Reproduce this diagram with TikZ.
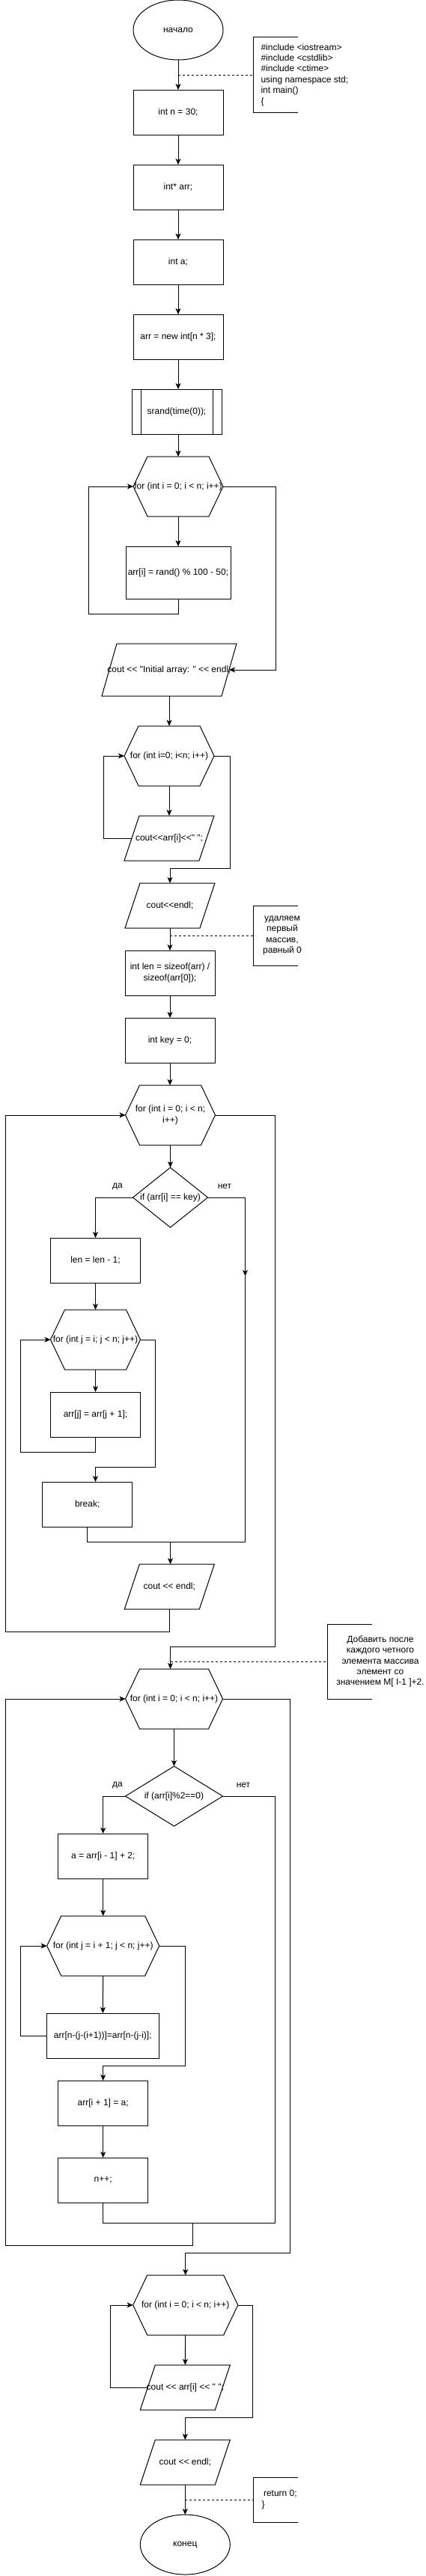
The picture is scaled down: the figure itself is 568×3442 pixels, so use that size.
\documentclass[tikz,border=0pt]{standalone}
\usepackage{fontspec}
\setmainfont{Liberation Sans}[Ligatures=TeXOff]
\usetikzlibrary{shapes.geometric,arrows.meta,calc}
\tikzset{
  base/.style={inner sep=0pt, outer sep=0pt, align=center, font=\fontsize{12}{14.4}\selectfont},
  sz/.style 2 args={minimum width=#1pt, minimum height=#2pt},
  proc/.style={base, draw, rectangle},
  term/.style={base, draw, ellipse},
  plain/.style={base},
  arr/.style={-{Stealth[length=8pt,width=7pt,inset=2pt]}},
  dsh/.style={dash pattern=on 3pt off 3pt}
}
\newcommand\hexout[1]{\draw ([xshift=19pt]#1.north west) -- ([xshift=-19pt]#1.north east) -- (#1.east) -- ([xshift=-19pt]#1.south east) -- ([xshift=19pt]#1.south west) -- (#1.west) -- cycle;}
\newcommand\paraout[1]{\draw ([xshift=20pt]#1.north west) -- (#1.north east) -- ([xshift=-20pt]#1.south east) -- (#1.south west) -- cycle;}
\newcommand\diaout[1]{\draw (#1.north) -- (#1.east) -- (#1.south) -- (#1.west) -- cycle;}
\newcommand\noteout[1]{\draw (#1.north east) -- (#1.north west) -- (#1.south west) -- (#1.south east);}
\newcommand\procout[1]{\draw (#1.north west) rectangle (#1.south east); \draw ([xshift=12pt]#1.north west) -- ([xshift=12pt]#1.south west); \draw ([xshift=-12pt]#1.north east) -- ([xshift=-12pt]#1.south east);}
\begin{document}
\begin{tikzpicture}[x=1pt,y=-1pt,line width=1pt]
\fill[white] (0,0) rectangle (568,3442);
\useasboundingbox (0,0) rectangle (568,3442);
\coordinate (lx) at (7.2,0);
\coordinate (rx1) at (367.8,0);
\coordinate (c2200) at (227.5,2200);
\coordinate (j1) at (327.5,2060);
\coordinate (j3) at (367.8,2970);
\coordinate (j4) at (257.6,2970);

% nodes
\node[term, sz={120}{80}] (start) at (238,40) {начало};
\node[plain, sz={60}{100}] (note1) at (368,100) {};
\node[base, anchor=west, align=left] (note1t) at (348.5,100) {\#include <iostream>\\\#include <cstdlib>\\\#include <ctime>\\using namespace std;\\int main()\\\{};
\node[proc, sz={120}{60}] (n30) at (238,150) {int n = 30;};
\node[proc, sz={120}{60}] (arrp) at (238,250) {int* arr;};
\node[proc, sz={120}{60}] (inta) at (238,350) {int a;};
\node[proc, sz={120}{60}] (newarr) at (238,450) {arr = new int[n * 3];};
\node[plain, sz={120}{60}] (srand) at (236,550) {srand(time(0));};
\node[plain, sz={120}{80}] (hex1) at (238,650) {for (int i = 0; i < n; i++)};
\node[proc, sz={140}{70}] (rand) at (238,765) {arr[i] = rand() \% 100 - 50;};
\node[plain, sz={180}{70}] (cout1) at (226,895) {cout << "Initial array: " << endl;};
\node[plain, sz={120}{80}] (hex2) at (226,1010) {for (int i=0; i<n; i++)};
\node[plain, sz={120}{60}] (cout2) at (226,1120) {cout<<arr[i]<<" ";};
\node[plain, sz={120}{60}] (cout3) at (227,1210) {cout<<endl;};
\node[plain, sz={60}{80}] (note2) at (368,1250) {};
\node[base] (note2t) at (377,1250) {удаляем\\первый\\массив,\\равный 0};
\node[proc, sz={120}{60}] (len) at (227,1300) {int len = sizeof(arr) /\\sizeof(arr[0]);};
\node[proc, sz={120}{60}] (key) at (227,1390) {int key = 0;};
\node[plain, sz={120}{80}] (hex3) at (227.5,1490) {for (int i = 0; i < n;\\i++)};
\node[plain, sz={100}{80}] (dia1) at (227.5,1600) {if (arr[i] == key)};
\node[base] (da1) at (157,1585) {да};
\node[base] (net1) at (300,1585) {нет};
\node[proc, sz={120}{60}] (lenm) at (127.5,1684) {len = len - 1;};
\node[plain, sz={120}{80}] (hex4) at (127.5,1790) {for (int j = i; j < n; j++)};
\node[proc, sz={120}{60}] (arrj) at (127.5,1890) {arr[j] = arr[j + 1];};
\node[proc, sz={120}{60}] (brk) at (116.7,2010) {break;};
\node[plain, sz={120}{60}] (cout4) at (226.3,2120) {cout << endl;};
\node[plain, sz={130}{80}] (hex5) at (232.5,2270) {for (int i = 0; i < n; i++)};
\node[plain, sz={60}{100}] (note3) at (467,2220) {};
\node[base] (note3t) at (508,2220) {Добавить после\\каждого четного\\элемента массива\\элемент со\\значением M[ I-1 ]+2.};
\node[plain, sz={130}{80}] (dia2) at (232.5,2400) {if (arr[i]\%2==0)};
\node[base] (da2) at (157,2385) {да};
\node[base] (net2) at (325,2385) {нет};
\node[proc, sz={120}{60}] (amr) at (137.7,2480) {a = arr[i - 1] + 2;};
\node[plain, sz={150}{80}] (hex6) at (137.7,2600) {for (int j = i + 1; j < n; j++)};
\node[proc, sz={150}{60}] (shift) at (137.3,2720) {arr[n-(j-(i+1))]=arr[n-(j-i)];};
\node[proc, sz={120}{60}] (ai1) at (137.7,2810) {arr[i + 1] = a;};
\node[proc, sz={120}{60}] (npp) at (137.7,2913) {n++;};
\node[plain, sz={140}{80}] (hex7) at (247.7,3080) {for (int i = 0; i < n; i++)};
\node[plain, sz={120}{60}] (cout5) at (247.3,3190) {cout << arr[i] << " ";};
\node[plain, sz={120}{60}] (cout6) at (247.3,3290) {cout << endl;};
\node[plain, sz={60}{60}] (note4) at (368,3340) {};
\node[base, anchor=west, align=left] (note4t) at (349.5,3340) {\hspace*{2.5pt}return 0;\\\}};
\node[term, sz={120}{80}] (end) at (247.3,3400) {конец};

% outlines
\noteout{note1}\noteout{note2}\noteout{note3}\noteout{note4}
\procout{srand}
\hexout{hex1}\hexout{hex2}\hexout{hex3}\hexout{hex4}\hexout{hex5}\hexout{hex6}\hexout{hex7}
\paraout{cout1}\paraout{cout2}\paraout{cout3}\paraout{cout4}\paraout{cout5}\paraout{cout6}
\diaout{dia1}\diaout{dia2}

% connectors
\draw[arr] (start) -- (n30);
\draw[dsh] (start.south |- note1.west) -- (note1.west);
\draw[arr] (n30) -- (arrp);
\draw[arr] (arrp) -- (inta);
\draw[arr] (inta) -- (newarr);
\draw[arr] (newarr.south) -- (newarr.south |- srand.north);
\draw[arr] (srand.south -| hex1.north) -- (hex1.north);
\draw[arr] (hex1) -- (rand);
\draw[arr] (rand.south) -- ++(0,20) -| ([xshift=-60pt]hex1.west) -- (hex1.west);
\draw[arr] (hex1.east) -- ++(70,0) |- ([xshift=-10pt]cout1.east);
\draw[arr] (cout1.south) -- (hex2.north);
\draw[arr] (hex2) -- (cout2);
\draw[arr] ([xshift=10pt]cout2.west) -- ++(-38,0) |- (hex2.west);
\draw[arr] (hex2.east) -- ++(21,0) |- ($(cout3.north)+(0,-20)$) -- (cout3.north);
\draw[arr] (cout3.south) -- (len.north);
\draw[dsh] (cout3.south |- note2.west) -- (note2.west);
\draw[arr] (len) -- (key);
\draw[arr] (key.south) -- (key.south |- hex3.north);
\draw[arr] (hex3) -- (dia1);
\draw[arr] (dia1.west) -| (lenm.north);
\draw[arr] (dia1.east) -| ($(dia1.east)+(50,105)$);
\draw ($(dia1.east)+(50,105)$) -- (j1);
\draw[arr] (lenm) -- (hex4);
\draw[arr] (hex4) -- (arrj);
\draw[arr] (arrj.south) -- ++(0,20) -| ([xshift=-40pt]hex4.west) -- (hex4.west);
\draw[arr] (hex4.east) -- ++(20,0) |- ($(hex4.south)+(0,130)$) -- ($(hex4.south)+(0,150)$);
\draw (brk.south) |- (j1);
\draw[arr] (j1 -| c2200) -- (c2200 |- cout4.north);
\draw[arr] (cout4.south) -- ++(0,30) -| (lx |- hex3.west) -- (hex3.west);
\draw[arr] (hex3.east) -- (rx1 |- hex3.east) |- (c2200) -- (c2200 |- hex5.north);
\draw[dsh] (c2200 |- note3.west) -- (note3.west);
\draw[arr] (hex5) -- (dia2);
\draw[arr] (dia2.west) -| (amr.north);
\draw (dia2.east) -| (j3);
\draw[arr] (amr) -- (hex6);
\draw[arr] (hex6) -- (shift);
\draw[arr] (shift.west) -- ++(-35,0) |- (hex6.west);
\draw[arr] (hex6.east) -- ++(35,0) |- ($(ai1.north)+(0,-20)$) -- (ai1.north);
\draw[arr] (ai1) -- (npp);
\draw (npp.south) |- (j3);
\draw[arr] (j4) -- ++(0,30) -| (lx |- hex5.west) -- (hex5.west);
\draw[arr] (hex5.east) -- ++(90,0) |- ($(hex7.north)+(0,-30)$) -- (hex7.north);
\draw[arr] (hex7) -- (cout5);
\draw[arr] ([xshift=10pt]cout5.west) -- ++(-50,0) |- (hex7.west);
\draw[arr] (hex7.east) -- ++(20,0) |- ($(cout6.north)+(0,-30)$) -- (cout6.north);
\draw[arr] (cout6) -- (end);
\draw[dsh] (cout6.south |- note4.west) -- (note4.west);
\end{tikzpicture}
\end{document}
